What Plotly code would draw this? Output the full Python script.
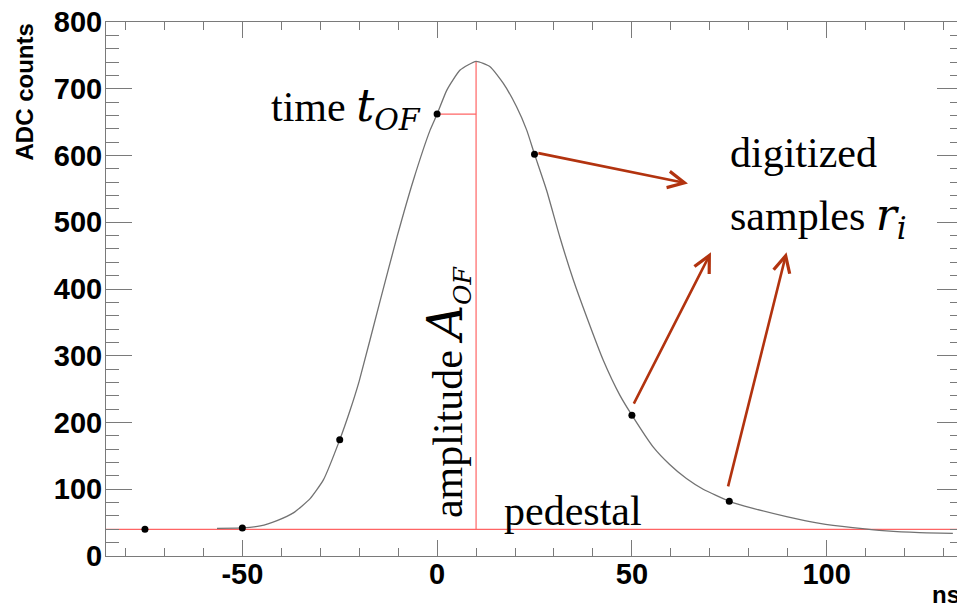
import plotly.graph_objects as go

# ---- data ----
curve_t = [-56.5, -50, -45.4, -41.1, -36.8, -32.6, -29.2, -25, -22.3, -20, -14.6, -10.3, -6.1, -1.8, 0,
           2.5, 5.9, 10, 13.6, 17, 20.4, 23, 25, 28.1, 31.5, 35, 38.4, 42.6, 46.9, 50, 55.5, 59.7,
           64, 68.3, 75, 81.1, 89.7, 98.2, 106.7, 115.3, 123.8, 132.4]
curve_adc = [41.5, 42, 45, 53, 65, 86, 114, 174, 219, 262, 383, 478, 563, 638, 662,
             698, 728, 741, 733, 708, 673, 638, 602, 548, 478, 413, 358, 294, 241, 211, 163, 137,
             116, 100, 82, 71.5, 59, 49, 42.5, 37.5, 35, 34]

sample_t = [-75, -50, -25, 0, 25, 50, 75]
sample_adc = [40, 42, 174, 662, 602, 211, 82]

pedestal = 40
t_of = 10
a_peak = 741
time_sample = 0
time_adc = 662

x_range = [-85, 135]
y_range = [0, 800]
x_tickvals = [-50, 0, 50, 100]
x_ticktext = ["-50", "0", "50", "100"]
y_tickvals = [0, 100, 200, 300, 400, 500, 600, 700, 800]
y_ticktext = ["0", "100", "200", "300", "400", "500", "600", "700", "800"]

# arrows: (tail_t, tail_adc, head_t, head_adc)
arrow_tail_t = [25.6, 50.3, 74.6]
arrow_tail_adc = [604, 226, 102]
arrow_head_t = [64.4, 70.3, 89.7]
arrow_head_adc = [558, 455, 455]

RED = "#ff6464"
ARROW = "#b2330f"
FRAME = "#7a7a7a"
SERIF = "Liberation Serif"
MATH = "DejaVu Serif"

fig = go.Figure()

# pedestal line
fig.add_trace(go.Scatter(x=x_range, y=[pedestal, pedestal], mode="lines",
                         line=dict(color=RED, width=1.2), hoverinfo="skip"))
# amplitude line
fig.add_trace(go.Scatter(x=[t_of, t_of], y=[pedestal, a_peak], mode="lines",
                         line=dict(color=RED, width=1.2), hoverinfo="skip"))
# time line
fig.add_trace(go.Scatter(x=[time_sample, t_of], y=[time_adc, time_adc], mode="lines",
                         line=dict(color=RED, width=1.2), hoverinfo="skip"))
# pulse shape
fig.add_trace(go.Scatter(x=curve_t, y=curve_adc, mode="lines",
                         line=dict(color="#727272", width=1.3, shape="spline", smoothing=0.5)))
# samples
fig.add_trace(go.Scatter(x=sample_t, y=sample_adc, mode="markers",
                         marker=dict(color="black", size=7)))

ann = []
for tt, ta, ht, ha in zip(arrow_tail_t, arrow_tail_adc, arrow_head_t, arrow_head_adc):
    ann.append(dict(x=ht, y=ha, ax=tt, ay=ta, xref="x", yref="y", axref="x", ayref="y",
                    text="", showarrow=True, arrowhead=5, arrowsize=1.25, arrowwidth=2.6,
                    arrowcolor=ARROW, standoff=0, startstandoff=0))

math_t = (f"<span style='font-family:{MATH};font-size:45px'><i>t</i></span>"
          f"<sub><span style='font-family:{MATH};font-size:30px'><i>OF</i></span></sub>")
math_a = (f"<span style='font-family:{MATH};font-size:48px'><i>A</i></span>"
          f"<sub><span style='font-family:{MATH};font-size:25px'><i>OF</i></span></sub>")
math_r = (f"<span style='font-family:{MATH};font-size:44px'><i>r</i></span>"
          f"<sub><span style='font-family:{MATH};font-size:31px'><i>i</i></span></sub>")

ann.append(dict(x=-3.6, y=671, xref="x", yref="y", xanchor="right", yanchor="middle",
                text="time " + math_t, showarrow=False,
                font=dict(family=SERIF, size=42, color="black")))
ann.append(dict(x=74.6, y=604, xref="x", yref="y", xanchor="left", yanchor="middle",
                text="digitized", showarrow=False,
                font=dict(family=SERIF, size=42, color="black")))
ann.append(dict(x=74.6, y=507, xref="x", yref="y", xanchor="left", yanchor="middle",
                text="samples " + math_r, showarrow=False,
                font=dict(family=SERIF, size=42, color="black")))
ann.append(dict(x=16.7, y=67, xref="x", yref="y", xanchor="left", yanchor="middle",
                text="pedestal", showarrow=False,
                font=dict(family=SERIF, size=42, color="black")))
ann.append(dict(x=2.6, y=246, xref="x", yref="y", xanchor="center", yanchor="middle",
                text="amplitude " + math_a, showarrow=False, textangle=-90,
                font=dict(family=SERIF, size=42, color="black")))
# axis titles (ROOT style, at the ends of the axes)
ann.append(dict(x=0, y=1, xref="paper", yref="paper", xanchor="center", yanchor="top",
                xshift=-82, text="ADC counts", showarrow=False, textangle=-90,
                font=dict(family="Liberation Sans", size=24, color="black", weight="bold")))
ann.append(dict(x=1, y=0, xref="paper", yref="paper", xanchor="right", yanchor="top",
                xshift=-1, yshift=-23, text="ns", showarrow=False,
                font=dict(family="Liberation Sans", size=24, color="black", weight="bold")))

tickfont = dict(family="Liberation Sans", size=29, color="black", weight="bold")

# the page body adds an 8 px offset, margins compensate for it
fig.update_layout(
    width=965, height=608,
    margin=dict(l=98, r=10, t=14, b=60, autoexpand=False),
    plot_bgcolor="white", paper_bgcolor="white",
    showlegend=False,
    annotations=ann,
)
fig.update_xaxes(range=x_range, tickvals=x_tickvals, ticktext=x_ticktext,
                 ticks="inside", ticklen=16, tickwidth=1, tickcolor=FRAME,
                 showline=True, linecolor=FRAME, linewidth=1, mirror="ticks",
                 showgrid=False, zeroline=False, tickfont=tickfont, automargin=False,
                 ticklabelstandoff=-8, ticklabeloverflow="allow",
                 minor=dict(ticks="inside", ticklen=8, dtick=10, tick0=0,
                            tickcolor=FRAME, showgrid=False))
fig.update_yaxes(range=y_range, tickvals=y_tickvals, ticktext=y_ticktext,
                 ticks="inside", ticklen=26, tickwidth=1, tickcolor=FRAME,
                 showline=True, linecolor=FRAME, linewidth=1, mirror="ticks",
                 showgrid=False, zeroline=False, tickfont=tickfont, ticklabelstandoff=-3,
                 automargin=False, ticklabeloverflow="allow",
                 minor=dict(ticks="inside", ticklen=13, dtick=20, tick0=0,
                            tickcolor=FRAME, showgrid=False))

fig.write_html("out.html")
